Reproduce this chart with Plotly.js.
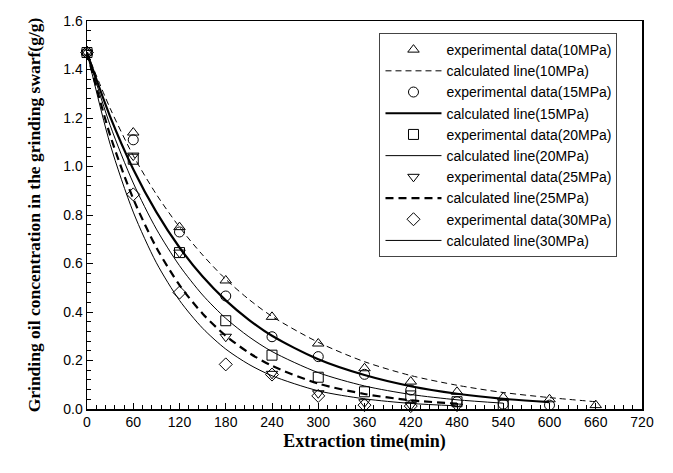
<!DOCTYPE html>
<html>
<head>
<meta charset="utf-8">
<script src="https://cdn.plot.ly/plotly-3.0.1.min.js"></script>
<style>html,body{margin:0;padding:0;background:#fff;}#chart{width:673px;height:473px;}</style>
</head>
<body>
<div id="chart"></div>
<script>
// Experimental data (time in min, concentration g/g)
const expTime = [0, 60, 120, 180, 240, 300, 360, 420, 480, 540, 600, 660];
const exp10 = [1.47, 1.14, 0.75, 0.53, 0.38, 0.27, 0.168, 0.113, 0.071, 0.048, 0.04, 0.016];
const exp15 = [1.47, 1.11, 0.73, 0.466, 0.298, 0.216, 0.143, 0.078, 0.03, 0.02, 0.016];
const exp20 = [1.47, 1.03, 0.645, 0.364, 0.222, 0.131, 0.071, 0.054, 0.03, 0.016];
const exp25 = [1.47, 1.045, 0.645, 0.298, 0.145, 0.065, 0.028, 0.016, 0.01];
const exp30 = [1.47, 0.885, 0.48, 0.184, 0.142, 0.054, 0.016, 0.012];

// Calculated lines
const calcTime = [0, 30, 60, 90, 120, 150, 180, 210, 240, 300, 360, 420, 480, 540, 600, 660];
const calc10 = [1.47, 1.24, 1.045, 0.885, 0.75, 0.635, 0.535, 0.452, 0.382, 0.275, 0.195, 0.138, 0.098, 0.068, 0.047, 0.03];
const calc15 = [1.47, 1.206, 0.989, 0.812, 0.666, 0.546, 0.448, 0.368, 0.302, 0.205, 0.14, 0.094, 0.063, 0.042, 0.028];
const calc20 = [1.47, 1.170, 0.932, 0.742, 0.591, 0.470, 0.374, 0.298, 0.237, 0.150, 0.095, 0.060, 0.038, 0.024];
const calc25 = [1.47, 1.129, 0.867, 0.666, 0.511, 0.393, 0.302, 0.232, 0.178, 0.105, 0.062, 0.036, 0.022];
const calc30 = [1.47, 1.092, 0.812, 0.603, 0.448, 0.333, 0.247, 0.184, 0.137, 0.075, 0.042, 0.023, 0.013];

const xTickVals = [0, 60, 120, 180, 240, 300, 360, 420, 480, 540, 600, 660, 720];
const yTickVals = [0, 0.2, 0.4, 0.6, 0.8, 1.0, 1.2, 1.4, 1.6];

function expTrace(name, y, symbol) {
  return {
    x: expTime.slice(0, y.length), y: y, name: name, type: 'scatter', mode: 'markers',
    marker: {symbol: symbol, size: 10, color: '#000', line: {color: '#000', width: 1}},
    cliponaxis: false
  };
}
function calcTrace(name, y, width, dash) {
  return {
    x: calcTime.slice(0, y.length), y: y, name: name, type: 'scatter', mode: 'lines',
    line: {color: '#000', width: width, dash: dash, shape: 'spline', smoothing: 0.8}
  };
}

const data = [
  expTrace('experimental data(10MPa)', exp10, 'triangle-up-open'),
  calcTrace('calculated line(10MPa)', calc10, 1, '6px,4px'),
  expTrace('experimental data(15MPa)', exp15, 'circle-open'),
  calcTrace('calculated line(15MPa)', calc15, 2.2, 'solid'),
  expTrace('experimental data(20MPa)', exp20, 'square-open'),
  calcTrace('calculated line(20MPa)', calc20, 1, 'solid'),
  expTrace('experimental data(25MPa)', exp25, 'triangle-down-open'),
  calcTrace('calculated line(25MPa)', calc25, 2.2, '8px,5px'),
  expTrace('experimental data(30MPa)', exp30, 'diamond-open'),
  calcTrace('calculated line(30MPa)', calc30, 1, 'solid')
];

const layout = {
  width: 673, height: 473,
  margin: {l: 87, r: 31, t: 21, b: 64},
  paper_bgcolor: '#fff', plot_bgcolor: '#fff',
  font: {family: 'Liberation Sans, Arial, sans-serif', color: '#000', size: 14},
  showlegend: true,
  legend: {
    x: 0.527, y: 0.969, xanchor: 'left', yanchor: 'top',
    bgcolor: '#fff', bordercolor: '#444', borderwidth: 1,
    font: {family: 'Liberation Sans, Arial, sans-serif', size: 14, color: '#000'},
    tracegroupgap: 0, itemwidth: 56
  },
  xaxis: {
    range: [0, 720], tickvals: xTickVals, ticktext: xTickVals.map(String),
    ticks: 'inside', ticklen: 6, tickwidth: 1, tickcolor: '#000',
    minor: {dtick: 12, tick0: 0, ticks: 'inside', ticklen: 4, tickcolor: '#000', showgrid: false},
    showline: true, linecolor: '#000', linewidth: 1.5, mirror: true,
    showgrid: false, zeroline: false,
    tickfont: {size: 14},
    title: {text: 'Extraction time(min)', standoff: 5,
      font: {family: 'Liberation Serif, Times New Roman, serif', size: 18, color: '#000', weight: 'bold'}}
  },
  yaxis: {
    range: [0, 1.6], tickvals: yTickVals, tickformat: '.1f',
    ticks: 'inside', ticklen: 6, tickwidth: 1, tickcolor: '#000',
    minor: {dtick: 0.04, tick0: 0, ticks: 'inside', ticklen: 4, tickcolor: '#000', showgrid: false},
    showline: true, linecolor: '#000', linewidth: 1.5, mirror: true,
    showgrid: false, zeroline: false,
    tickfont: {size: 14},
    title: {text: 'Grinding oil concentration in the grinding swarf(g/g)', standoff: 18,
      font: {family: 'Liberation Serif, Times New Roman, serif', size: 17.5, color: '#000', weight: 'bold'}}
  }
};

Plotly.newPlot('chart', data, layout, {staticPlot: true, displayModeBar: false});
</script>
</body>
</html>
